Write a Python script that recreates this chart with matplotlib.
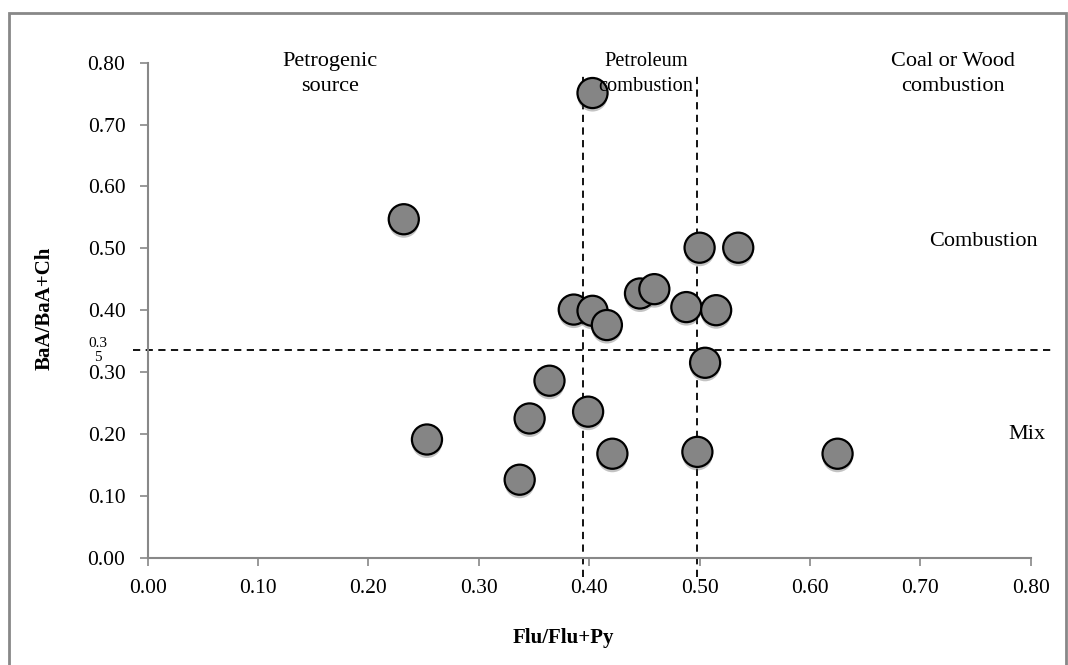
import matplotlib
matplotlib.use("Agg")
import matplotlib.pyplot as plt
import matplotlib.patheffects as pe
from matplotlib.patches import Rectangle

plt.rcParams['font.family'] = ['Liberation Serif', 'DejaVu Serif']

# ratios
flu_ratio = [0.232, 0.253, 0.337, 0.346, 0.364, 0.386, 0.399, 0.403, 0.403, 0.416,
             0.421, 0.446, 0.459, 0.488, 0.498, 0.500, 0.505, 0.515, 0.535, 0.625]
baa_ratio = [0.547, 0.191, 0.126, 0.225, 0.286, 0.401, 0.236, 0.399, 0.751, 0.376,
             0.168, 0.427, 0.434, 0.405, 0.171, 0.501, 0.315, 0.400, 0.501, 0.168]
ticks = [0.0, 0.1, 0.2, 0.3, 0.4, 0.5, 0.6, 0.7, 0.8]
flu_limits = [0.394, 0.498]
baa_limit = 0.336

fig = plt.figure(figsize=(10.68, 6.65), dpi=100)
ax = fig.add_axes([0.1383, 0.1614, 0.8268, 0.7443])

# outer gray frame
fig.patches.append(Rectangle((9/1068, -0.02), (1066-9)/1068, 1 - 13/665 + 0.02,
                             transform=fig.transFigure, fill=False,
                             edgecolor='#888888', linewidth=2))

ax.scatter(flu_ratio, baa_ratio, s=470, c='#858585', edgecolors='black', linewidths=1.6,
           zorder=3,
           path_effects=[pe.SimplePatchShadow(offset=(0, -2.5), shadow_rgbFace='#555555', alpha=0.35),
                         pe.Normal()])

# dashed boundaries
for xv in flu_limits:
    ax.plot([xv, xv], [-0.031, 0.78], color='black', linestyle=(0, (4, 3)), linewidth=1.3,
            clip_on=False, zorder=2)
ax.plot([-0.013, 0.822], [baa_limit, baa_limit], color='black', linestyle=(0, (4, 3)),
        linewidth=1.3, clip_on=False, zorder=2)

ax.set_xlim(0, 0.8)
ax.set_ylim(0, 0.8)
ax.set_xticks(ticks)
ax.set_yticks(ticks)
ax.set_xticklabels(['%.2f' % t for t in ticks])
ax.set_yticklabels(['%.2f' % t for t in ticks])
for side in ['top', 'right']:
    ax.spines[side].set_visible(False)
for side in ['left', 'bottom']:
    ax.spines[side].set_color('#888888')
    ax.spines[side].set_linewidth(1.5)
ax.tick_params(axis='both', direction='out', length=6, width=1.2, color='#888888',
               labelsize=15.5)
ax.tick_params(axis='y', pad=10)
ax.tick_params(axis='x', pad=9)

ax.set_xlabel('Flu/Flu+Py', fontsize=15, fontweight='bold', va='center', ha='center')
ax.set_ylabel('BaA/BaA+Ch', fontsize=15, fontweight='bold', va='center', ha='center')
ax.xaxis.set_label_coords((563 - 147.7) / 883, (557.7 - 638) / 495)
ax.yaxis.set_label_coords((45 - 147.7) / 883, (557.7 - 308) / 495)

# region labels
def px(x, y):
    return ((x - 147.7) / 1103.75, (557.7 - y) / 618.75)

ax.text(*px(330, 74), 'Petrogenic\nsource', ha='center', va='center', fontsize=16,
        linespacing=1.4, clip_on=False)
ax.text(*px(646, 74), 'Petroleum\ncombustion', ha='center', va='center', fontsize=14.7,
        linespacing=1.45, clip_on=False, zorder=4)
ax.text(*px(953, 74), 'Coal or Wood\ncombustion', ha='center', va='center', fontsize=16,
        linespacing=1.4, clip_on=False)
ax.text(*px(983, 242), 'Combustion', ha='center', va='center', fontsize=16, clip_on=False)
ax.text(*px(1027, 435), 'Mix', ha='center', va='center', fontsize=16, clip_on=False)
ax.text(*px(98, 351), '0.3\n5', ha='center', va='center', fontsize=11,
        linespacing=1.1, clip_on=False)

fig.savefig('out.png', dpi=100)
